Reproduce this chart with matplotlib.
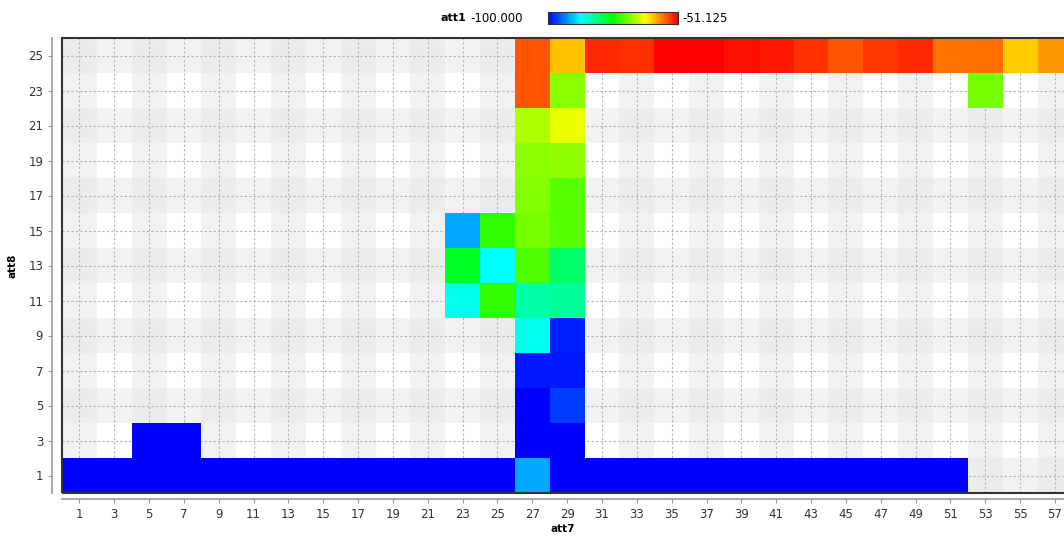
import numpy as np
import matplotlib
matplotlib.use("Agg")
import matplotlib.pyplot as plt
from matplotlib.colors import ListedColormap, hsv_to_rgb, Normalize
from matplotlib.patches import Rectangle

# data: one entry per filled cell (att7, att8 -> att1)
cell_x = [27, 29, 31, 33, 35, 37, 39, 41, 43, 45, 47, 49, 51, 53, 55, 57,
          27, 29, 53,
          27, 29,
          27, 29,
          27, 29,
          23, 25, 27, 29,
          23, 25, 27, 29,
          23, 25, 27, 29,
          27, 29,
          27, 29,
          27, 29,
          5, 7, 27, 29,
          1, 3, 5, 7, 9, 11, 13, 15, 17, 19, 21, 23, 25, 27, 29, 31, 33, 35,
          37, 39, 41, 43, 45, 47, 49, 51]
cell_y = [25] * 16 + [23] * 3 + [21] * 2 + [19] * 2 + [17] * 2 + [15] * 4 + \
         [13] * 4 + [11] * 4 + [9] * 2 + [7] * 2 + [5] * 2 + [3] * 4 + [1] * 26
cell_val = [-55.20, -60.29, -53.16, -53.57, -51.13, -51.13, -51.94, -52.35,
            -53.57, -55.20, -53.90, -53.04, -56.83, -56.60, -60.90, -58.40,
            -55.20, -69.05, -69.86,
            -67.21, -64.37,
            -69.05, -68.64,
            -69.45, -71.49,
            -91.85, -73.12, -69.86, -71.49,
            -77.19, -87.78, -71.90, -80.45,
            -86.97, -73.12, -83.71, -82.89,
            -86.97, -98.37,
            -98.78, -98.78,
            -100.0, -96.95,
            -100.0, -100.0, -100.0, -100.0,
            -100.0, -100.0, -100.0, -100.0, -100.0, -100.0, -100.0, -100.0,
            -100.0, -100.0, -100.0, -100.0, -100.0, -91.85, -100.0, -100.0,
            -100.0, -100.0, -100.0, -100.0, -100.0, -100.0, -100.0, -100.0,
            -100.0, -100.0]
vmin, vmax = -100.000, -51.125
x_ticks = list(range(1, 58, 2))
y_ticks = list(range(1, 26, 2))

# blue -> red hue ramp
hues = np.linspace(240, 0, 256) / 360.0
cmap = ListedColormap(hsv_to_rgb(np.stack([hues, np.ones(256), np.ones(256)], axis=1)))
norm = Normalize(vmin, vmax)

fig = plt.figure(figsize=(10.64, 5.36), dpi=100)
W, H = 1064, 536
right_px = 1080  # plot runs past the right edge of the image
ax = fig.add_axes([62 / W, 1 - 493 / H, (right_px - 62) / W, (493 - 38) / H])

# grid of cells, 2 units wide, centred on odd values
xe = np.arange(0, 62, 2)
ye = np.arange(0, 28, 2)
grid = np.full((len(ye) - 1, len(xe) - 1), np.nan)
for x, y, v in zip(cell_x, cell_y, cell_val):
    grid[(y - 1) // 2, (x - 1) // 2] = v

# alternating background bands
bi = np.arange(len(xe) - 1)
bj = np.arange(len(ye) - 1)
bg = (bi[None, :] % 2 == 0).astype(int) + (bj[:, None] % 2 == 0).astype(int)
bg_cmap = ListedColormap(["#ffffff", "#f2f2f2", "#ebedea"])
ax.pcolormesh(xe, ye, bg, cmap=bg_cmap, vmin=0, vmax=2, zorder=0.1)

ax.pcolormesh(xe, ye, np.ma.masked_invalid(grid), cmap=cmap, norm=norm, zorder=2)

ax.set_xlim(0, (right_px - 62) / 17.42)
ax.set_ylim(0, 26)
ax.set_xticks(x_ticks)
ax.set_yticks(y_ticks)
ax.set_axisbelow(True)
ax.grid(True, color="#b4b4b4", linestyle=(0, (2, 2)), linewidth=0.8)

for s in ["top", "right"]:
    ax.spines[s].set_visible(False)
ax.spines["left"].set_position(("outward", 7))
ax.spines["bottom"].set_position(("outward", 4))
for s in ["left", "bottom"]:
    ax.spines[s].set_color("#999999")
    ax.spines[s].set_linewidth(1.2)
ax.tick_params(colors="#999999", labelcolor="#333333", labelsize=8.5, length=3, width=0.8)

# dark plot border
ax.add_patch(Rectangle((0, 0), 1, 1, transform=ax.transAxes, fill=False,
                       edgecolor="#333333", linewidth=1.5, zorder=5, clip_on=False))

ax.set_xlabel("att7", fontsize=7.5, fontweight="bold")
ax.set_ylabel("att8", fontsize=7.5, fontweight="bold", labelpad=8)
ax.xaxis.set_label_coords((563 - 62) / (right_px - 62), -(524 - 493) / (493 - 38))

# colour legend at the top
cax = fig.add_axes([548 / W, 1 - 24 / H, 130 / W, 12 / H])
cax.imshow(np.linspace(0, 1, 256)[None, :], aspect="auto", cmap=cmap)
cax.set_xticks([])
cax.set_yticks([])
for s in cax.spines.values():
    s.set_color("#333333")
fig.text(466 / W, 1 - 18 / H, "att1", ha="right", va="center", fontsize=8, fontweight="bold")
fig.text(470 / W, 1 - 18 / H, "%.3f" % vmin, ha="left", va="center", fontsize=8.5)
fig.text(682 / W, 1 - 18 / H, "%.3f" % vmax, ha="left", va="center", fontsize=8.5)

fig.savefig("out.png", dpi=100)
